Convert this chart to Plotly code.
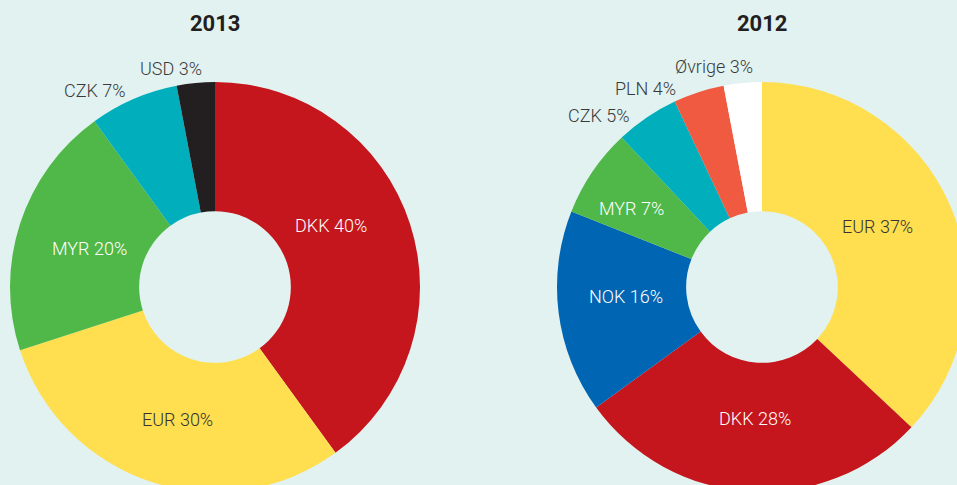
import plotly.graph_objects as go

# 2013
labels_2013 = ["DKK", "EUR", "MYR", "CZK", "USD"]
values_2013 = [40, 30, 20, 7, 3]
colors_2013 = ["#C4161C", "#FFDE4F", "#50B848", "#00AEBC", "#231F20"]
tcol_2013 = ["#FFFFFF", "#333333", "#FFFFFF", "#3A3A3A", "#3A3A3A"]
# label text centres (pixels)
lpos_2013 = [(331, 225), (177, 419), (89, 248), (95, 90), (171, 68)]

# 2012
labels_2012 = ["EUR", "DKK", "NOK", "MYR", "CZK", "PLN", "Øvrige"]
values_2012 = [37, 28, 16, 7, 5, 4, 3]
colors_2012 = ["#FFDE4F", "#C4161C", "#0065B3", "#50B848", "#00AEBC", "#F05A40", "#FFFFFF"]
tcol_2012 = ["#333333", "#FFFFFF", "#FFFFFF", "#FFFFFF", "#3A3A3A", "#3A3A3A", "#3A3A3A"]
lpos_2012 = [(877, 226), (755, 418), (626, 296), (631, 208), (599, 116), (645, 88), (714, 67)]

titles = ["2013", "2012"]

# figure is slightly larger than the window; the overflow is cropped like the reference
W, H = 970, 495
BG = "#E2F2F0"
FONT = "Roboto"

fig = go.Figure()

def px_x(x):
    return x / W

def px_y(y):
    return 1 - y / H

def add_pie(labels, values, colors, xdom, ydom):
    fig.add_trace(go.Pie(
        labels=labels, values=values, sort=False, direction="clockwise", rotation=0,
        hole=0.37,
        marker=dict(colors=colors, line=dict(width=0)),
        textinfo="none",
        hoverinfo="label+percent",
        showlegend=False,
        domain=dict(x=xdom, y=ydom),
    ))

def add_labels(labels, values, tcols, lpos):
    for lab, v, c, (x, y) in zip(labels, values, tcols, lpos):
        fig.add_annotation(text=f"{lab} {v}%", x=px_x(x), y=px_y(y),
                           xref="paper", yref="paper", showarrow=False,
                           xanchor="center", yanchor="middle",
                           font=dict(family=FONT, size=18, color=c, weight=300))

add_pie(labels_2013, values_2013, colors_2013,
        [px_x(10), px_x(420)], [px_y(492), px_y(82)])
add_pie(labels_2012, values_2012, colors_2012,
        [px_x(557), px_x(967)], [px_y(492), px_y(82)])
add_labels(labels_2013, values_2013, tcol_2013, lpos_2013)
add_labels(labels_2012, values_2012, tcol_2012, lpos_2012)

for t, xc in zip(titles, [215, 762]):
    fig.add_annotation(text="<b>" + t + "</b>", x=px_x(xc), y=px_y(24),
                       xref="paper", yref="paper", showarrow=False,
                       xanchor="center", yanchor="middle",
                       font=dict(family=FONT, size=22, color="#231F20"))

fig.update_layout(
    width=W, height=H,
    margin=dict(l=0, r=0, t=0, b=0),
    paper_bgcolor=BG, plot_bgcolor=BG,
    font=dict(family=FONT),
)

fig.write_html("out.html",
               config={"displayModeBar": False},
               post_script="document.body.style.margin='0';"
                           "document.body.style.overflow='hidden';")
